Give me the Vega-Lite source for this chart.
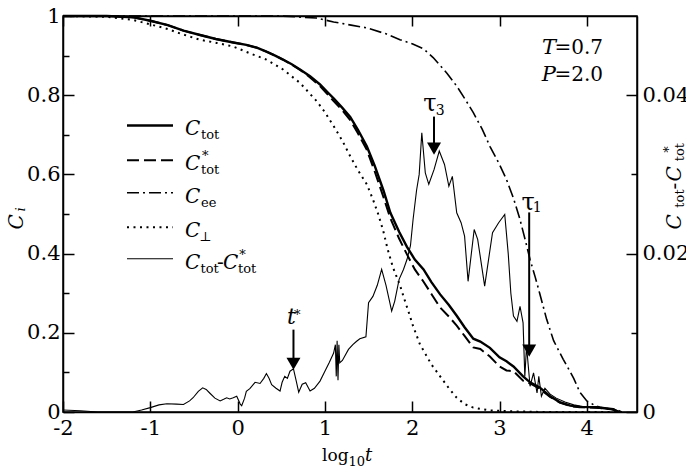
{
  "$schema": "https://vega.github.io/schema/vega-lite/v6.json",
  "width": 574,
  "height": 396,
  "autosize": {"type": "none"},
  "padding": {"left": 63, "top": 16, "right": 49, "bottom": 62},
  "background": "white",
  "config": {
    "font": "DejaVu Serif",
    "view": {"stroke": "black", "strokeWidth": 1.5},
    "axis": {"grid": false, "domainColor": "black", "domainWidth": 1.5, "tickColor": "black", "tickWidth": 1.5, "labelFont": "DejaVu Serif", "labelFontSize": 21, "labelColor": "black", "labelFlush": false, "labelOverlap": false, "title": null}
  },
  "encoding": {
    "x": {"field": "x", "type": "quantitative", "scale": {"domain": [-2, 4.575], "nice": false, "zero": false}, "axis": null},
    "y": {"field": "y", "type": "quantitative", "scale": {"domain": [0, 1], "nice": false, "zero": false}, "axis": null}
  },
  "layer": [
    {
      "data": {"values": [
        {"x": -2.0, "y": 1.0}, {"x": -1.5, "y": 1.0}, {"x": -1.2, "y": 0.997}, {"x": -1.0, "y": 0.988}, {"x": -0.8, "y": 0.977},
        {"x": -0.62, "y": 0.963}, {"x": -0.43, "y": 0.952}, {"x": -0.25, "y": 0.942}, {"x": -0.05, "y": 0.933}, {"x": 0.1, "y": 0.927},
        {"x": 0.22, "y": 0.92}, {"x": 0.33, "y": 0.91}, {"x": 0.43, "y": 0.9}, {"x": 0.52, "y": 0.89}, {"x": 0.62, "y": 0.878},
        {"x": 0.715, "y": 0.865}, {"x": 0.83, "y": 0.848}, {"x": 0.944, "y": 0.827}, {"x": 1.02, "y": 0.81}, {"x": 1.1, "y": 0.792},
        {"x": 1.2, "y": 0.768}, {"x": 1.29, "y": 0.745}, {"x": 1.38, "y": 0.712}, {"x": 1.48, "y": 0.671}, {"x": 1.57, "y": 0.622},
        {"x": 1.67, "y": 0.56}, {"x": 1.75, "y": 0.503}, {"x": 1.85, "y": 0.455}, {"x": 1.94, "y": 0.417}, {"x": 2.03, "y": 0.385},
        {"x": 2.13, "y": 0.36}, {"x": 2.22, "y": 0.328}, {"x": 2.32, "y": 0.297}, {"x": 2.42, "y": 0.27}, {"x": 2.51, "y": 0.243},
        {"x": 2.6, "y": 0.214}, {"x": 2.7, "y": 0.185}, {"x": 2.78, "y": 0.178}, {"x": 2.89, "y": 0.162}, {"x": 3.0, "y": 0.138},
        {"x": 3.08, "y": 0.128}, {"x": 3.16, "y": 0.115}, {"x": 3.27, "y": 0.09}, {"x": 3.35, "y": 0.075}, {"x": 3.46, "y": 0.062},
        {"x": 3.58, "y": 0.04}, {"x": 3.69, "y": 0.025}, {"x": 3.81, "y": 0.016}, {"x": 3.92, "y": 0.013}, {"x": 4.11, "y": 0.012},
        {"x": 4.3, "y": 0.007}, {"x": 4.37, "y": 0.0}
      ]},
      "mark": {"type": "line", "color": "black", "strokeWidth": 2.4},
      "encoding": {
        "x": {"field": "x", "type": "quantitative", "scale": {"domain": [-2, 4.575], "nice": false, "zero": false},
              "axis": {"orient": "bottom", "values": [-2, -1, 0, 1, 2, 3, 4], "tickSize": -11, "labelPadding": 16, "labelFont": "DejaVu Serif", "labelFontSize": 21, "labelExpr": "'' + datum.value"}},
        "y": {"field": "y", "type": "quantitative", "scale": {"domain": [0, 1], "nice": false, "zero": false},
              "axis": {"orient": "left", "values": [0, 0.2, 0.4, 0.6, 0.8, 1], "tickSize": -11, "labelPadding": 14, "labelFont": "DejaVu Serif", "labelFontSize": 21, "labelExpr": "'' + datum.value"}}
      }
    },
    {
      "data": {"values": [
        {"x": -2.0, "y": 1.0}, {"x": -1.5, "y": 1.0}, {"x": -1.2, "y": 0.997}, {"x": -1.0, "y": 0.988}, {"x": -0.8, "y": 0.977},
        {"x": -0.62, "y": 0.963}, {"x": -0.43, "y": 0.952}, {"x": -0.25, "y": 0.942}, {"x": -0.05, "y": 0.933}, {"x": 0.1, "y": 0.927},
        {"x": 0.22, "y": 0.92}, {"x": 0.33, "y": 0.91}, {"x": 0.43, "y": 0.9}, {"x": 0.52, "y": 0.89}, {"x": 0.62, "y": 0.877},
        {"x": 0.715, "y": 0.864}, {"x": 0.83, "y": 0.845}, {"x": 0.944, "y": 0.823}, {"x": 1.02, "y": 0.805}, {"x": 1.1, "y": 0.785},
        {"x": 1.2, "y": 0.762}, {"x": 1.29, "y": 0.737}, {"x": 1.38, "y": 0.703}, {"x": 1.48, "y": 0.662}, {"x": 1.57, "y": 0.608},
        {"x": 1.67, "y": 0.543}, {"x": 1.75, "y": 0.489}, {"x": 1.85, "y": 0.438}, {"x": 1.94, "y": 0.398}, {"x": 2.03, "y": 0.36},
        {"x": 2.13, "y": 0.329}, {"x": 2.22, "y": 0.298}, {"x": 2.32, "y": 0.264}, {"x": 2.42, "y": 0.241}, {"x": 2.51, "y": 0.218},
        {"x": 2.6, "y": 0.192}, {"x": 2.7, "y": 0.163}, {"x": 2.78, "y": 0.159}, {"x": 2.89, "y": 0.14}, {"x": 3.0, "y": 0.115},
        {"x": 3.08, "y": 0.105}, {"x": 3.16, "y": 0.103}, {"x": 3.27, "y": 0.079}, {"x": 3.35, "y": 0.072}, {"x": 3.46, "y": 0.059},
        {"x": 3.58, "y": 0.038}, {"x": 3.69, "y": 0.024}, {"x": 3.81, "y": 0.015}, {"x": 3.92, "y": 0.012}, {"x": 4.11, "y": 0.011},
        {"x": 4.3, "y": 0.007}, {"x": 4.37, "y": 0.0}
      ]},
      "mark": {"type": "line", "color": "black", "strokeWidth": 2, "strokeDash": [12, 5]},
      "encoding": {
        "y": {"field": "y", "type": "quantitative", "scale": {"domain": [0, 1], "nice": false, "zero": false},
              "axis": {"orient": "left", "values": [0.1, 0.3, 0.5, 0.7, 0.9], "tickSize": -6, "labels": false, "domain": false}}
      }
    },
    {
      "data": {"values": [
        {"x": -2.0, "y": 1.0}, {"x": 0.5, "y": 1.0}, {"x": 0.9, "y": 0.995}, {"x": 1.1, "y": 0.985}, {"x": 1.3, "y": 0.977},
        {"x": 1.48, "y": 0.97}, {"x": 1.7, "y": 0.955}, {"x": 1.86, "y": 0.94}, {"x": 2.0, "y": 0.93}, {"x": 2.13, "y": 0.917},
        {"x": 2.24, "y": 0.895}, {"x": 2.32, "y": 0.875}, {"x": 2.4, "y": 0.855}, {"x": 2.51, "y": 0.823}, {"x": 2.6, "y": 0.792},
        {"x": 2.7, "y": 0.756}, {"x": 2.8, "y": 0.715}, {"x": 2.89, "y": 0.671}, {"x": 3.0, "y": 0.625}, {"x": 3.08, "y": 0.587},
        {"x": 3.16, "y": 0.54}, {"x": 3.23, "y": 0.49}, {"x": 3.3, "y": 0.43}, {"x": 3.35, "y": 0.385}, {"x": 3.41, "y": 0.34},
        {"x": 3.46, "y": 0.3}, {"x": 3.54, "y": 0.234}, {"x": 3.62, "y": 0.18}, {"x": 3.73, "y": 0.133}, {"x": 3.85, "y": 0.085},
        {"x": 3.92, "y": 0.05}, {"x": 4.0, "y": 0.028}, {"x": 4.08, "y": 0.018}, {"x": 4.15, "y": 0.012}, {"x": 4.25, "y": 0.008},
        {"x": 4.35, "y": 0.005}, {"x": 4.4, "y": 0.0}
      ]},
      "mark": {"type": "line", "color": "black", "strokeWidth": 1.6, "strokeDash": [12, 4, 2, 4]},
      "encoding": {
        "x": {"field": "x", "type": "quantitative", "scale": {"domain": [-2, 4.575], "nice": false, "zero": false},
              "axis": {"orient": "top", "values": [-2, -1, 0, 1, 2, 3, 4], "tickSize": -10, "labels": false}},
        "y": {"field": "y", "type": "quantitative", "scale": {"domain": [0, 1], "nice": false, "zero": false},
              "axis": {"orient": "right", "values": [0.2, 0.6], "tickSize": -6, "labels": false, "domain": false}}
      }
    },
    {
      "data": {"values": [
        {"x": -2.0, "y": 1.0}, {"x": -1.5, "y": 0.998}, {"x": -1.2, "y": 0.99}, {"x": -1.0, "y": 0.979}, {"x": -0.8, "y": 0.967},
        {"x": -0.62, "y": 0.953}, {"x": -0.43, "y": 0.94}, {"x": -0.24, "y": 0.932}, {"x": -0.05, "y": 0.923}, {"x": 0.15, "y": 0.905},
        {"x": 0.33, "y": 0.89}, {"x": 0.52, "y": 0.865}, {"x": 0.715, "y": 0.831}, {"x": 0.906, "y": 0.785}, {"x": 1.0, "y": 0.757},
        {"x": 1.1, "y": 0.722}, {"x": 1.2, "y": 0.685}, {"x": 1.29, "y": 0.646}, {"x": 1.38, "y": 0.61}, {"x": 1.48, "y": 0.575},
        {"x": 1.55, "y": 0.537}, {"x": 1.61, "y": 0.5}, {"x": 1.67, "y": 0.456}, {"x": 1.72, "y": 0.41}, {"x": 1.78, "y": 0.365},
        {"x": 1.86, "y": 0.32}, {"x": 1.9, "y": 0.292}, {"x": 1.97, "y": 0.245}, {"x": 2.01, "y": 0.217}, {"x": 2.09, "y": 0.17},
        {"x": 2.13, "y": 0.155}, {"x": 2.22, "y": 0.12}, {"x": 2.32, "y": 0.09}, {"x": 2.42, "y": 0.06}, {"x": 2.51, "y": 0.036},
        {"x": 2.6, "y": 0.02}, {"x": 2.7, "y": 0.011}, {"x": 2.89, "y": 0.004}, {"x": 3.1, "y": 0.002}, {"x": 3.5, "y": 0.0},
        {"x": 4.4, "y": 0.0}
      ]},
      "mark": {"type": "line", "color": "black", "strokeWidth": 2, "strokeDash": [2, 4.5]}
    },
    {"data": {"values": [{"x": -1.267, "x2": -0.74, "y": 0.7235}]}, "mark": {"type": "rule", "color": "black", "strokeWidth": 2.4}, "encoding": {"x2": {"field": "x2"}}},
    {"data": {"values": [{"x": -1.267, "x2": -0.74, "y": 0.636}]}, "mark": {"type": "rule", "color": "black", "strokeWidth": 2, "strokeDash": [12, 5]}, "encoding": {"x2": {"field": "x2"}}},
    {"data": {"values": [{"x": -1.267, "x2": -0.74, "y": 0.5535}]}, "mark": {"type": "rule", "color": "black", "strokeWidth": 1.6, "strokeDash": [12, 4, 2, 4]}, "encoding": {"x2": {"field": "x2"}}},
    {"data": {"values": [{"x": -1.267, "x2": -0.74, "y": 0.4667}]}, "mark": {"type": "rule", "color": "black", "strokeWidth": 2, "strokeDash": [2, 4.5]}, "encoding": {"x2": {"field": "x2"}}},
    {"data": {"values": [{"x": -1.267, "x2": -0.74, "y": 0.387}]}, "mark": {"type": "rule", "color": "black", "strokeWidth": 1.1}, "encoding": {"x2": {"field": "x2"}}},
    {"data": {"values": [{"x": 0.64, "y": 0.208, "y2": 0.125}, {"x": 2.25, "y": 0.746, "y2": 0.665}, {"x": 3.34, "y": 0.504, "y2": 0.155}]},
     "mark": {"type": "rule", "color": "black", "strokeWidth": 2}, "encoding": {"y2": {"field": "y2"}}},
    {"data": {"values": [{"x": 0.64, "y": 0.122}, {"x": 2.25, "y": 0.665}, {"x": 3.34, "y": 0.155}]},
     "mark": {"type": "point", "shape": "triangle-down", "filled": true, "size": 196, "color": "black", "opacity": 1}},
    {"data": {"values": [{"x": -0.6025, "y": 0.7235, "t": "C"}, {"x": -0.6025, "y": 0.636, "t": "C"}, {"x": -0.6025, "y": 0.5535, "t": "C"}, {"x": -0.6025, "y": 0.4667, "t": "C"}, {"x": -0.6025, "y": 0.387, "t": "C"}, {"x": -0.167, "y": 0.387, "t": "C"}]},
     "mark": {"type": "text", "font": "DejaVu Serif", "fontStyle": "italic", "fontSize": 20, "align": "left", "baseline": "alphabetic", "dy": 10}, "encoding": {"text": {"field": "t"}}},
    {"data": {"values": [{"x": -0.419, "y": 0.7235, "t": "tot"}, {"x": -0.419, "y": 0.636, "t": "tot"}, {"x": -0.419, "y": 0.5535, "t": "ee"}, {"x": -0.44, "y": 0.4667, "t": "⊥"}, {"x": -0.425, "y": 0.387, "t": "tot"}, {"x": 0.005, "y": 0.387, "t": "tot"}]},
     "mark": {"type": "text", "font": "DejaVu Serif", "fontSize": 13, "align": "left", "baseline": "alphabetic", "dy": 14}, "encoding": {"text": {"field": "t"}}},
    {"data": {"values": [{"x": -0.408, "y": 0.636, "t": "*"}, {"x": 0.02, "y": 0.387, "t": "*"}]},
     "mark": {"type": "text", "font": "DejaVu Serif", "fontSize": 13, "align": "left", "baseline": "alphabetic", "dy": 0}, "encoding": {"text": {"field": "t"}}},
    {"data": {"values": [{"x": -0.236, "y": 0.387, "t": "-"}]},
     "mark": {"type": "text", "font": "DejaVu Serif", "fontSize": 20, "align": "left", "baseline": "alphabetic", "dy": 10}, "encoding": {"text": {"field": "t"}}},
    {"data": {"values": [{"x": 3.647, "y": 0.903, "t": "T"}, {"x": 3.647, "y": 0.837, "t": "P"}]},
     "mark": {"type": "text", "font": "DejaVu Serif", "fontStyle": "italic", "fontSize": 21, "align": "right", "baseline": "alphabetic"}, "encoding": {"text": {"field": "t"}}},
    {"data": {"values": [{"x": 4.186, "y": 0.903, "t": "=0.7"}, {"x": 4.186, "y": 0.837, "t": "=2.0"}]},
     "mark": {"type": "text", "font": "DejaVu Serif", "fontSize": 20, "align": "right", "baseline": "alphabetic"}, "encoding": {"text": {"field": "t"}}},
    {"data": {"values": [{"x": 0.617, "y": 0.221, "t": "t"}]},
     "mark": {"type": "text", "font": "DejaVu Serif", "fontStyle": "italic", "fontSize": 22, "align": "center", "baseline": "alphabetic"}, "encoding": {"text": {"field": "t"}}},
    {"data": {"values": [{"x": 0.645, "y": 0.2336, "t": "*"}]},
     "mark": {"type": "text", "font": "DejaVu Serif", "fontSize": 13, "align": "left", "baseline": "alphabetic"}, "encoding": {"text": {"field": "t"}}},
    {"data": {"values": [{"x": 2.204, "y": 0.759, "t": "τ"}, {"x": 3.327, "y": 0.511, "t": "τ"}]},
     "mark": {"type": "text", "font": "DejaVu Serif", "fontSize": 24, "align": "center", "baseline": "alphabetic"}, "encoding": {"text": {"field": "t"}}},
    {"data": {"values": [{"x": 2.27, "y": 0.749, "t": "3"}, {"x": 3.38, "y": 0.504, "t": "1"}]},
     "mark": {"type": "text", "font": "DejaVu Serif", "fontSize": 14, "align": "left", "baseline": "alphabetic"}, "encoding": {"text": {"field": "t"}}},
    {"data": {"values": [{"x": -2.458, "y": 0.461, "t": "C"}, {"x": 5.079, "y": 0.461, "t": "C"}, {"x": 5.079, "y": 0.582, "t": "C"}]},
     "mark": {"type": "text", "font": "DejaVu Serif", "fontStyle": "italic", "fontSize": 20, "align": "left", "baseline": "alphabetic", "angle": 270}, "encoding": {"text": {"field": "t"}}},
    {"data": {"values": [{"x": -2.435, "y": 0.506, "t": "i"}]},
     "mark": {"type": "text", "font": "DejaVu Serif", "fontStyle": "italic", "fontSize": 13, "align": "left", "baseline": "alphabetic", "angle": 270}, "encoding": {"text": {"field": "t"}}},
    {"data": {"values": [{"x": 5.113, "y": 0.516, "t": "tot"}, {"x": 5.113, "y": 0.633, "t": "tot"}]},
     "mark": {"type": "text", "font": "DejaVu Serif", "fontSize": 13, "align": "left", "baseline": "alphabetic", "angle": 270}, "encoding": {"text": {"field": "t"}}},
    {"data": {"values": [{"x": 5.079, "y": 0.562, "t": "-"}]},
     "mark": {"type": "text", "font": "DejaVu Serif", "fontSize": 20, "align": "left", "baseline": "alphabetic", "angle": 270}, "encoding": {"text": {"field": "t"}}},
    {"data": {"values": [{"x": 4.987, "y": 0.6545, "t": "*"}]},
     "mark": {"type": "text", "font": "DejaVu Serif", "fontSize": 13, "align": "left", "baseline": "alphabetic", "angle": 270}, "encoding": {"text": {"field": "t"}}},
    {"data": {"values": [{"x": 0.967, "y": -0.124, "t": "log"}]},
     "mark": {"type": "text", "font": "DejaVu Serif", "fontSize": 17, "align": "left", "baseline": "alphabetic"}, "encoding": {"text": {"field": "t"}}},
    {"data": {"values": [{"x": 1.27, "y": -0.137, "t": "10"}]},
     "mark": {"type": "text", "font": "DejaVu Serif", "fontSize": 13, "align": "left", "baseline": "alphabetic"}, "encoding": {"text": {"field": "t"}}},
    {"data": {"values": [{"x": 1.46, "y": -0.124, "t": "t"}]},
     "mark": {"type": "text", "font": "DejaVu Serif", "fontStyle": "italic", "fontSize": 18, "align": "left", "baseline": "alphabetic"}, "encoding": {"text": {"field": "t"}}},
    {
      "data": {"values": [
        {"x": -2.0, "d": 0.00025}, {"x": -1.8, "d": 0.00015}, {"x": -1.6, "d": 0.0}, {"x": -1.2, "d": 0.0}, {"x": -1.1, "d": 0.00025},
        {"x": -1.0, "d": 0.00055}, {"x": -0.9, "d": 0.0009}, {"x": -0.81, "d": 0.00105}, {"x": -0.7, "d": 0.001}, {"x": -0.62, "d": 0.00095},
        {"x": -0.55, "d": 0.0014}, {"x": -0.51, "d": 0.0018}, {"x": -0.45, "d": 0.0026}, {"x": -0.4, "d": 0.00305}, {"x": -0.36, "d": 0.00285},
        {"x": -0.32, "d": 0.0024}, {"x": -0.26, "d": 0.00175}, {"x": -0.2, "d": 0.0014}, {"x": -0.16, "d": 0.0016}, {"x": -0.125, "d": 0.0018},
        {"x": -0.09, "d": 0.00165}, {"x": -0.05, "d": 0.0018}, {"x": -0.01, "d": 0.002}, {"x": 0.03, "d": 0.001}, {"x": 0.047, "d": 0.0008},
        {"x": 0.08, "d": 0.00175}, {"x": 0.1, "d": 0.0026}, {"x": 0.14, "d": 0.00295}, {"x": 0.2, "d": 0.00375}, {"x": 0.257, "d": 0.0036},
        {"x": 0.3, "d": 0.00425}, {"x": 0.33, "d": 0.00485}, {"x": 0.36, "d": 0.00425}, {"x": 0.39, "d": 0.00345}, {"x": 0.44, "d": 0.003},
        {"x": 0.486, "d": 0.00265}, {"x": 0.51, "d": 0.00375}, {"x": 0.54, "d": 0.0045}, {"x": 0.57, "d": 0.00425}, {"x": 0.6, "d": 0.00515},
        {"x": 0.64, "d": 0.00545}, {"x": 0.67, "d": 0.004}, {"x": 0.7, "d": 0.0025}, {"x": 0.74, "d": 0.0035}, {"x": 0.78, "d": 0.0037},
        {"x": 0.83, "d": 0.00265}, {"x": 0.88, "d": 0.003}, {"x": 0.944, "d": 0.0039}, {"x": 1.0, "d": 0.00515}, {"x": 1.05, "d": 0.00625},
        {"x": 1.1, "d": 0.00745}, {"x": 1.12, "d": 0.0085}, {"x": 1.13, "d": 0.0045}, {"x": 1.14, "d": 0.009}, {"x": 1.15, "d": 0.004},
        {"x": 1.16, "d": 0.0085}, {"x": 1.17, "d": 0.0062}, {"x": 1.2, "d": 0.0065}, {"x": 1.27, "d": 0.0079}, {"x": 1.32, "d": 0.0085},
        {"x": 1.36, "d": 0.0089}, {"x": 1.4, "d": 0.00925}, {"x": 1.47, "d": 0.0095}, {"x": 1.5, "d": 0.0138}, {"x": 1.55, "d": 0.0146},
        {"x": 1.6, "d": 0.016}, {"x": 1.65, "d": 0.018}, {"x": 1.7, "d": 0.016}, {"x": 1.765, "d": 0.01275}, {"x": 1.8, "d": 0.014},
        {"x": 1.85, "d": 0.01675}, {"x": 1.9, "d": 0.018}, {"x": 1.94, "d": 0.01925}, {"x": 1.98, "d": 0.021}, {"x": 2.01, "d": 0.0243},
        {"x": 2.05, "d": 0.028}, {"x": 2.08, "d": 0.03}, {"x": 2.11, "d": 0.03525}, {"x": 2.15, "d": 0.0302}, {"x": 2.19, "d": 0.02875},
        {"x": 2.25, "d": 0.0306}, {"x": 2.31, "d": 0.03295}, {"x": 2.37, "d": 0.03125}, {"x": 2.42, "d": 0.0285}, {"x": 2.46, "d": 0.02975},
        {"x": 2.51, "d": 0.02515}, {"x": 2.56, "d": 0.0239}, {"x": 2.6, "d": 0.0222}, {"x": 2.64, "d": 0.0165}, {"x": 2.71, "d": 0.02305},
        {"x": 2.75, "d": 0.0218}, {"x": 2.83, "d": 0.0159}, {"x": 2.92, "d": 0.02265}, {"x": 2.99, "d": 0.0239}, {"x": 3.06, "d": 0.02495},
        {"x": 3.1, "d": 0.02}, {"x": 3.13, "d": 0.015}, {"x": 3.16, "d": 0.0121}, {"x": 3.2, "d": 0.01145}, {"x": 3.235, "d": 0.01335},
        {"x": 3.27, "d": 0.01125}, {"x": 3.29, "d": 0.0045}, {"x": 3.31, "d": 0.0083}, {"x": 3.35, "d": 0.00325}, {"x": 3.39, "d": 0.00495},
        {"x": 3.43, "d": 0.0024}, {"x": 3.45, "d": 0.0045}, {"x": 3.48, "d": 0.002}, {"x": 3.52, "d": 0.003}, {"x": 3.58, "d": 0.00225},
        {"x": 3.65, "d": 0.00175}, {"x": 3.75, "d": 0.00125}, {"x": 3.85, "d": 0.0009}, {"x": 4.0, "d": 0.0006}, {"x": 4.15, "d": 0.0005},
        {"x": 4.25, "d": 0.0004}, {"x": 4.35, "d": 0.0001}
      ]},
      "mark": {"type": "line", "color": "black", "strokeWidth": 1.1},
      "encoding": {
        "y": {"field": "d", "type": "quantitative", "scale": {"domain": [0, 0.05], "nice": false, "zero": false},
              "axis": {"orient": "right", "values": [0, 0.02, 0.04], "tickSize": -11, "labelPadding": 16, "labelFont": "DejaVu Serif", "labelFontSize": 21, "labelExpr": "'' + datum.value"}}
      }
    }
  ],
  "resolve": {"scale": {"y": "independent"}, "axis": {"x": "independent", "y": "independent"}}
}
